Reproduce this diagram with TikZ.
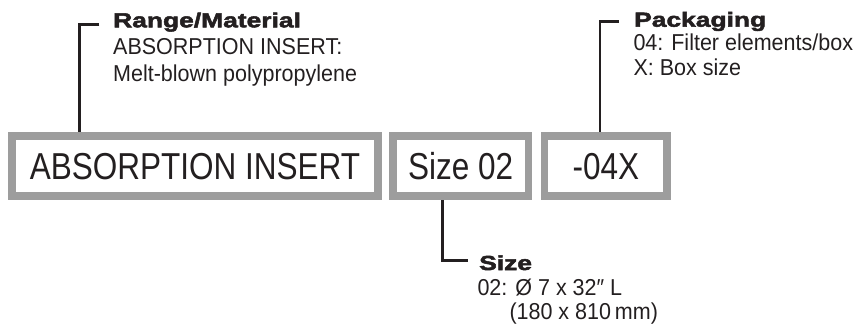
\documentclass[tikz,border=0pt]{standalone}
\usepackage{fontspec}
\setmainfont{Liberation Sans}
\newfontfamily\boxfont{Liberation Sans}[FakeStretch=0.84]
\newfontfamily\bodyfont{Liberation Sans}[FakeStretch=0.935]
\newfontfamily\headfont{Liberation Sans}[UprightFont=* Bold, FakeStretch=1.3, FakeBold=2.5]
\definecolor{ink}{HTML}{231F20}
\definecolor{frame}{HTML}{9D9D9D}
\tikzset{
  codebox/.style={draw=frame, fill=white, line width=7.7pt, inner sep=0pt,
    text=ink, font=\boxfont\fontsize{37.5}{40}\selectfont},
  head/.style={anchor=base west, inner sep=0pt, text=ink,
    font=\headfont\fontsize{20.3}{22}\selectfont},
  body/.style={anchor=base west, inner sep=0pt, text=ink,
    font=\bodyfont\fontsize{23}{26}\selectfont},
  leader/.style={draw=ink, line width=2.6pt}
}
\begin{document}
\begin{tikzpicture}[x=1pt,y=-1pt]
\useasboundingbox (0,0) rectangle (853,324);
% code boxes
\node[codebox, minimum width=365.7pt, minimum height=60pt] (abs) at (195,166.2) {ABSORPTION INSERT};
\node[codebox, minimum width=135.6pt, minimum height=60pt] (size) at (460.65,166.2) {Size 02};
\node[codebox, minimum width=122.6pt, minimum height=60pt] (pack) at (605.85,166.2) {-04X};
% Range/Material
\node[head] (rh) at (113,27.3) {Range/Material};
\node[body] (r1) at (113,54.5) {ABSORPTION INSERT:};
\node[body] (r2) at (113,81.7) {Melt-blown polypropylene};
\coordinate (rc) at (79.3,24.4);
\coordinate (re) at (99.3,24.4);
\draw[leader] (re) -- (rc) -- (rc |- abs.north);
% Packaging
\node[head] (ph) at (634,26.7) {Packaging};
\node[body] (p1) at (633.3,50.5) {04: Filter elements/box};
\node[body] (p2) at (633.3,75) {X: Box size};
\coordinate (pc) at (600,21.3);
\coordinate (pe) at (619,21.3);
\draw[leader] (pe) -- (pc) -- (pc |- pack.north);
% Size
\node[head] (sh) at (479,270) {Size};
\node[body] (s1) at (477.3,295) {02: Ø 7 x 32″ L};
\node[body] (s2) at (509.3,319.5) {(180 x 810\,mm)};
\coordinate (sc) at (442.3,260.3);
\coordinate (se) at (467.7,260.3);
\draw[leader] (se) -- (sc) -- (sc |- size.south);
\end{tikzpicture}
\end{document}
